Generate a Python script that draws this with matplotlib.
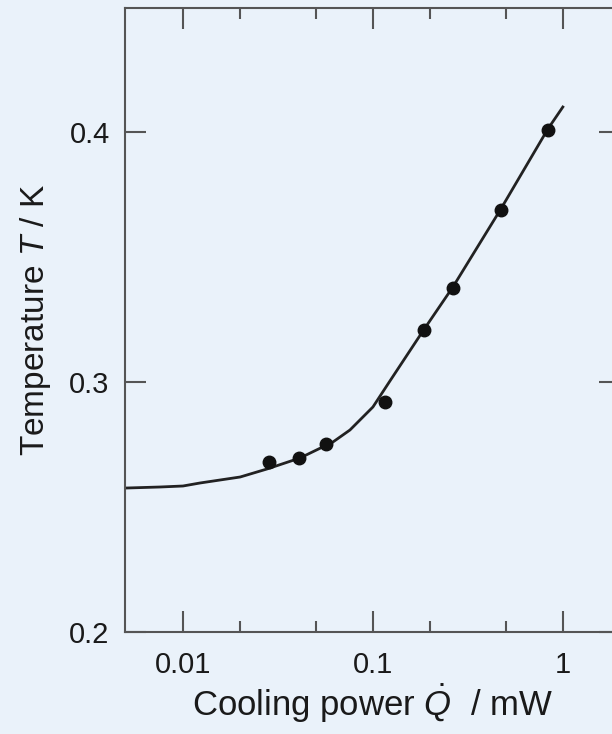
import matplotlib.pyplot as plt

# Cooling power vs temperature: measured points and model curve

plt.rcParams['font.family'] = ['Liberation Sans', 'DejaVu Sans']
plt.rcParams['mathtext.fontset'] = 'custom'
plt.rcParams['mathtext.rm'] = 'Liberation Sans'
plt.rcParams['mathtext.it'] = 'Liberation Sans:italic'

# measured data (mW, K)
q_meas = [0.0284, 0.0408, 0.0566, 0.1157, 0.1855, 0.264, 0.472, 0.834]
t_meas = [0.2680, 0.2696, 0.2752, 0.2920, 0.3208, 0.3376, 0.3688, 0.4008]

# model curve
q_fit = [0.00507, 0.00757, 0.01, 0.01229, 0.02, 0.02768, 0.0413, 0.0616, 0.0757,
         0.1, 0.1229, 0.1834, 0.2637, 0.4716, 0.834, 1.0]
t_fit = [0.2576, 0.2580, 0.2584, 0.2596, 0.2620, 0.2652, 0.2696, 0.2760, 0.2808,
         0.2900, 0.3004, 0.3204, 0.3380, 0.3692, 0.4012, 0.4100]

bg = '#eaf2fa'
fig = plt.figure(figsize=(6.12, 7.34), dpi=100, facecolor=bg)
ax = fig.add_axes([125 / 612, 1 - 632 / 734, 495 / 612, 624 / 734])
ax.set_facecolor(bg)

ax.plot(q_fit, t_fit, color='#222222', lw=2)
ax.plot(q_meas, t_meas, 'o', color='#111111', ms=9)

ax.set_xscale('log')
ax.set_xlim(0.00495, 2)
ax.set_ylim(0.2, 0.4496)
ax.set_xticks([0.01, 0.1, 1])
ax.set_xticklabels(['0.01', '0.1', '1'])
ax.set_xticks([0.02, 0.05, 0.2, 0.5], minor=True)
ax.set_yticks([0.2, 0.3, 0.4])
ax.set_yticklabels(['0.2', '0.3', '0.4'])
ax.set_yticks([], minor=True)

for s in ax.spines.values():
    s.set_color('#555555')
    s.set_linewidth(1.5)

ax.tick_params(which='both', direction='in', top=True, right=True,
               color='#555555', width=1.5, labelsize=21, labelcolor='#1a1a1a')
ax.tick_params(which='major', length=15)
ax.tick_params(which='minor', length=8)
ax.tick_params(axis='x', pad=14)
ax.tick_params(axis='y', pad=11)

ax.set_xlabel(r'Cooling power $\dot{Q}$  / mW', fontsize=25, color='#1a1a1a', labelpad=2)
ax.set_ylabel(r'Temperature $T$ / K', fontsize=24, color='#1a1a1a', labelpad=12)

fig.savefig('out.png', dpi=100, facecolor=bg)
